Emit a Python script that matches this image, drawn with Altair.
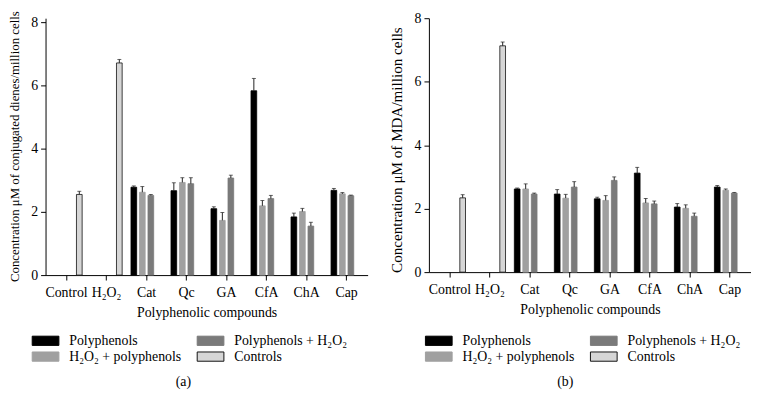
import altair as alt
import pandas as pd

FONT = "Liberation Serif"

categories = ["Control", "H₂O₂", "Cat", "Qc", "GA", "CfA", "ChA", "Cap"]
control_groups = ["Control", "H₂O₂"]
compounds = ["Cat", "Qc", "GA", "CfA", "ChA", "Cap"]

series_order = ["Polyphenols", "H₂O₂ + polyphenols", "Polyphenols + H₂O₂", "Controls"]
fill_colors = ["#000000", "#a0a0a0", "#7a7a7a", "#d6d6d6"]
stroke_colors = ["#000000", "#a0a0a0", "#7a7a7a", "#111111"]

# Panel (a): conjugated dienes
controls_a = [2.55, 6.71]
controls_a_err = [0.10, 0.11]
poly_a = [2.78, 2.67, 2.10, 5.83, 1.84, 2.68]
poly_a_err = [0.04, 0.25, 0.06, 0.39, 0.12, 0.06]
h2o2_poly_a = [2.62, 2.93, 1.73, 2.19, 2.01, 2.57]
h2o2_poly_a_err = [0.18, 0.15, 0.25, 0.17, 0.10, 0.04]
poly_h2o2_a = [2.52, 2.89, 3.07, 2.42, 1.55, 2.51]
poly_h2o2_a_err = [0.03, 0.19, 0.09, 0.10, 0.12, 0.02]

# Panel (b): MDA
controls_b = [2.34, 7.13]
controls_b_err = [0.10, 0.12]
poly_b = [2.62, 2.46, 2.31, 3.12, 2.05, 2.68]
poly_b_err = [0.03, 0.14, 0.05, 0.18, 0.11, 0.05]
h2o2_poly_b = [2.62, 2.33, 2.26, 2.18, 2.01, 2.58]
h2o2_poly_b_err = [0.16, 0.12, 0.15, 0.14, 0.11, 0.04]
poly_h2o2_b = [2.46, 2.68, 2.89, 2.15, 1.76, 2.49]
poly_h2o2_b_err = [0.03, 0.17, 0.11, 0.09, 0.10, 0.02]


def build_df(ctrl, ctrl_err, poly, poly_err, hp, hp_err, ph, ph_err):
    rows = []
    for c, v, e in zip(control_groups, ctrl, ctrl_err):
        rows.append({"cat": c, "series": "Controls", "value": v, "err": e})
    for name, vals, errs in [("Polyphenols", poly, poly_err),
                             ("H₂O₂ + polyphenols", hp, hp_err),
                             ("Polyphenols + H₂O₂", ph, ph_err)]:
        for c, v, e in zip(compounds, vals, errs):
            rows.append({"cat": c, "series": name, "value": v, "err": e})
    df = pd.DataFrame(rows)
    df["top"] = df["value"] + df["err"]
    return df


def panel(df, ytitle, ytitle_size, ytitle_pad, ytitle_y, ymax, height, width, letter,
          legend_x, legend_y, title_dx):
    x = alt.X("cat:N", sort=categories,
              scale=alt.Scale(domain=categories, paddingInner=0.15, paddingOuter=0.1),
              axis=alt.Axis(title="Polyphenolic compounds", labelAngle=0, labelPadding=6,
                            labelFontSize=14, titleFontSize=14, titlePadding=6, ticks=True))
    xo = alt.XOffset("series:N", sort=series_order,
                     scale=alt.Scale(domain=series_order, paddingInner=0.33, paddingOuter=0.165))
    y = alt.Y("value:Q", scale=alt.Scale(domain=[0, ymax], nice=False, zero=True),
              axis=alt.Axis(values=[0, 2, 4, 6, 8], title=ytitle, titleFontSize=ytitle_size,
                            titlePadding=ytitle_pad, titleY=ytitle_y,
                            labelPadding=3, labelFontSize=14))
    legend = alt.Legend(title=None, orient="none", legendX=legend_x, legendY=legend_y,
                        columns=2, columnPadding=13, rowPadding=2,
                        symbolType="M-2.6,-0.9H2.6V0.9H-2.6Z", symbolSize=108,
                        symbolStrokeWidth=1, labelFont=FONT, labelFontSize=14,
                        labelColor="black", labelOffset=17, values=series_order)
    bars = alt.Chart(df).mark_bar(strokeWidth=0.8).encode(
        x=x, xOffset=xo, y=y,
        fill=alt.Fill("series:N", scale=alt.Scale(domain=series_order, range=fill_colors), legend=legend),
        stroke=alt.Stroke("series:N", scale=alt.Scale(domain=series_order, range=stroke_colors), legend=legend),
    )
    err = alt.Chart(df).mark_rule(color="#222222", strokeWidth=1).encode(
        x=x, xOffset=xo, y="value:Q", y2="top:Q")
    caps = alt.Chart(df).mark_tick(color="#222222", thickness=1, size=4).encode(
        x=x, xOffset=xo, y="top:Q")
    return alt.layer(bars, err, caps).properties(
        width=width, height=height,
        title=alt.TitleParams(letter, orient="bottom", anchor="middle", frame="bounds",
                              fontSize=14, font=FONT, fontWeight="normal", dx=title_dx, offset=12),
    )


df_a = build_df(controls_a, controls_a_err, poly_a, poly_a_err,
                h2o2_poly_a, h2o2_poly_a_err, poly_h2o2_a, poly_h2o2_a_err)
df_b = build_df(controls_b, controls_b_err, poly_b, poly_b_err,
                h2o2_poly_b, h2o2_poly_b_err, poly_h2o2_b, poly_h2o2_b_err)

left = panel(df_a, "Concentration μM of conjugated dienes/million cells", 13, 9, 129.5,
             8.125, 260, 326, "(a)", -7, 319.5, -5)
right = panel(df_b, "Concentration μM of MDA/million cells", 15.3, 10, 133,
              8.0, 257, 326, "(b)", 3, 319.5, -5)

chart = alt.hconcat(left, right, spacing=21).resolve_scale(
    fill="independent", stroke="independent", y="independent", x="independent"
).properties(
    padding={"left": 0, "top": 0, "right": 0, "bottom": 0}
).configure_view(stroke=None).configure_axis(
    labelFont=FONT, labelFontSize=14, labelColor="black",
    titleFont=FONT, titleFontSize=13, titleFontWeight="normal", titleColor="black",
    domainColor="black", tickColor="black", tickSize=5, grid=False,
).configure_legend(labelFont=FONT).configure_title(color="black", font=FONT)

chart.save("out.html", embed_options={"renderer": "svg", "actions": False})
